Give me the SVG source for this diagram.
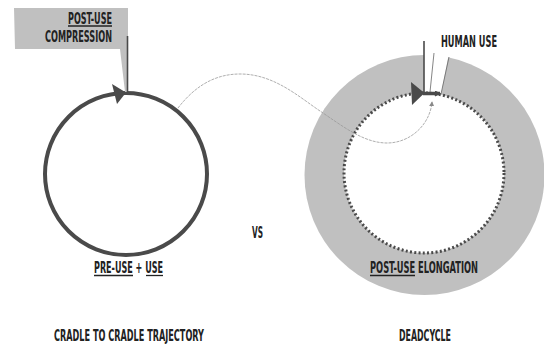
<svg xmlns="http://www.w3.org/2000/svg" width="544" height="345" viewBox="0 0 544 345">
<defs>
<style>
.t{font-family:"Liberation Sans Narrow","DejaVu Sans Condensed","Liberation Sans",sans-serif;font-weight:bold;font-size:15.5px;fill:#222}
.u{stroke:#222;stroke-width:1.3}
.dk{stroke:#4a4a4a;fill:none}
</style>
<marker id="sa" viewBox="0 0 6 6" refX="5" refY="3" markerWidth="5" markerHeight="5" orient="auto" markerUnits="userSpaceOnUse">
<path d="M0,0L6,3L0,6z" fill="#888"/>
</marker>
<marker id="da" viewBox="0 0 6 6" refX="5" refY="3" markerWidth="6" markerHeight="6" orient="auto" markerUnits="userSpaceOnUse">
<path d="M0,0L6,3L0,6z" fill="#4a4a4a"/>
</marker>
</defs>
<rect width="544" height="345" fill="#fff"/>

<g id="deadcycle-ring">
<circle cx="424.5" cy="175" r="120" fill="#c0c0c0"/>
<circle cx="424" cy="173" r="80" fill="#fff"/>
<polygon points="424,48 450,48 441,94 424,94" fill="#fff"/>
<line x1="434" y1="53" x2="430" y2="92" stroke="#666" stroke-width="0.8"/>
<line x1="449" y1="57" x2="441" y2="94" stroke="#666" stroke-width="0.8"/>
<circle cx="424" cy="173" r="80" fill="none" stroke="#4a4a4a" stroke-width="3" stroke-dasharray="2 2.3"/>
</g>

<g id="cradle-circle">
<circle cx="126" cy="174" r="81" class="dk" stroke-width="4"/>
<polygon points="112,84 126,92.5 117,104" fill="#4a4a4a"/>
</g>

<g id="callout-compression">
<polygon points="14,8 128,8 128,92 125,92 120,49 15,49" fill="#c0c0c0"/>
<line x1="127.5" y1="36" x2="127.5" y2="93" stroke="#4a4a4a" stroke-width="1.6"/>
<text class="t" x="112" y="24" text-anchor="end" textLength="44" lengthAdjust="spacingAndGlyphs">POST-USE</text>
<line class="u" x1="68" y1="26" x2="112" y2="26"/>
<text class="t" x="112" y="42" text-anchor="end" textLength="67" lengthAdjust="spacingAndGlyphs">COMPRESSION</text>
</g>

<g id="human-use">
<line x1="424" y1="41" x2="424" y2="93" stroke="#4a4a4a" stroke-width="1.6"/>
<polygon points="411,82 424.5,93 412,105" fill="#4a4a4a"/>
<line x1="423" y1="93.5" x2="440" y2="93.5" stroke="#4a4a4a" stroke-width="3.5" marker-end="url(#da)"/>
<text class="t" x="441" y="47" textLength="56" lengthAdjust="spacingAndGlyphs">HUMAN USE</text>
</g>

<g id="connectors">
<path d="M178,108 C195,86 215,74 240,74 C275,74 300,98 323,113 C345,128 365,143 387,143 C410,143 430,125 432,102" fill="none" stroke="#999" stroke-width="0.8" stroke-dasharray="3 1" marker-end="url(#sa)"/>
</g>

<g id="labels">
<text class="t" x="94" y="273" textLength="69" lengthAdjust="spacingAndGlyphs">PRE-USE + USE</text>
<line class="u" x1="94" y1="275.5" x2="133" y2="275.5"/>
<line class="u" x1="146" y1="275.5" x2="163" y2="275.5"/>
<text class="t" x="252" y="238" textLength="11" lengthAdjust="spacingAndGlyphs">VS</text>
<text class="t" x="370" y="273" textLength="108" lengthAdjust="spacingAndGlyphs">POST-USE ELONGATION</text>
<line class="u" x1="370" y1="275.5" x2="415" y2="275.5"/>
<text class="t" x="54" y="341" textLength="150" lengthAdjust="spacingAndGlyphs">CRADLE TO CRADLE TRAJECTORY</text>
<text class="t" x="399" y="341" textLength="52" lengthAdjust="spacingAndGlyphs">DEADCYCLE</text>
</g>
</svg>
